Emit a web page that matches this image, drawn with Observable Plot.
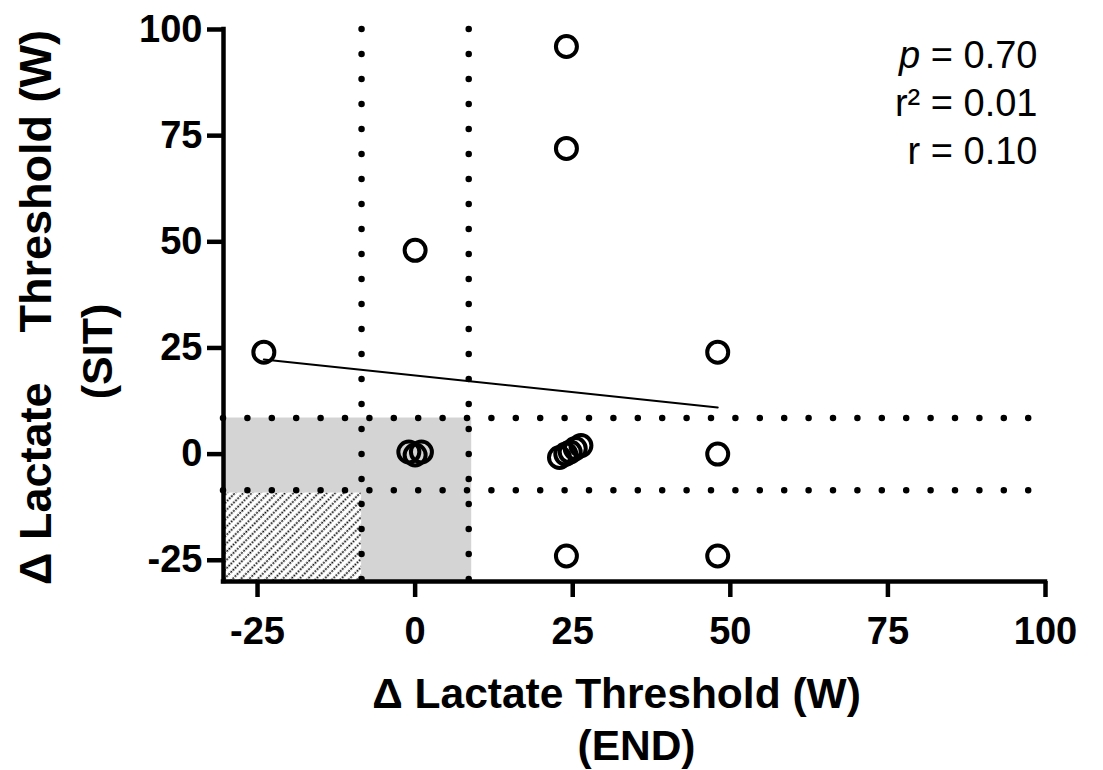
<!DOCTYPE html>
<html><head><meta charset="utf-8">
<script src="https://cdn.jsdelivr.net/npm/d3@7"></script>
<script src="https://cdn.jsdelivr.net/npm/@observablehq/plot@0.6"></script>
<style>body{margin:0;background:#fff;} svg{display:block;}</style>
</head><body><div id="chart"></div>
<script>
// ---- data ----
const xTicks = [-25, 0, 25, 50, 75, 100];
const yTicks = [-25, 0, 25, 50, 75, 100];
const ptX = [24, 24, 0, -24, 48, -1, 0, 1, 22.9, 23.9, 24.6, 25.4, 26.3, 48, 24, 48];
const ptY = [96, 72, 48, 24, 24, 0.5, -0.2, 0.5, -0.8, 0, 0.5, 1.3, 2, 0, -24, -24];
const fitX = [-24, 48];
const fitY = [22.3, 11];
const cutoffs = [-8.5, 8.5];
const statLines = ["p = 0.70", "r\u00b2 = 0.01", "r = 0.10"];
const xTitle = ["\u0394 Lactate Threshold (W)", "(END)"];
const yTitle = ["\u0394 Lactate\u00a0\u00a0\u00a0 Threshold (W)", "(SIT)"];

const points = ptX.map((x, i) => ({x, y: ptY[i]}));
const fit = fitX.map((x, i) => ({x, y: fitY[i]}));

const X0 = -30.4, X1 = 100, Y0 = -30, Y1 = 100;
const font = "'Liberation Sans', Arial, Helvetica, sans-serif";

const chart = Plot.plot({
  width: 1103,
  height: 770,
  marginLeft: 223,
  marginRight: 58,
  marginTop: 29,
  marginBottom: 189,
  style: {fontFamily: font, background: "#fff", color: "#000"},
  x: {domain: [X0, X1]},
  y: {domain: [Y0, Y1]},
  marks: [
    // shaded quadrant
    Plot.rect([0], {x1: X0, x2: cutoffs[1], y1: Y0, y2: cutoffs[1], fill: "#d4d4d4", insetRight: -3}),
    Plot.rect([0], {x1: X0, x2: cutoffs[0], y1: Y0, y2: cutoffs[0], fill: "#fff", insetTop: 3}),
    Plot.rect([0], {x1: X0, x2: cutoffs[0], y1: Y0, y2: cutoffs[0], fill: "url(#hatch)", insetTop: 3}),
    // dotted cut-off lines
    Plot.ruleX(cutoffs, {y1: Y1, y2: Y0, stroke: "#000", strokeWidth: 6.5, strokeDasharray: "0,25", strokeLinecap: "round"}),
    Plot.ruleY(cutoffs, {x1: X0, x2: 98.5, stroke: "#000", strokeWidth: 6.5, strokeDasharray: "0,24.4", strokeLinecap: "round"}),
    // regression line
    Plot.line(fit, {x: "x", y: "y", stroke: "#000", strokeWidth: 2}),
    // points
    Plot.dot(points, {x: "x", y: "y", r: 10.5, stroke: "#000", strokeWidth: 4, fill: "none"}),
    // axes
    Plot.ruleX([X0], {y1: Y0, y2: Y1, stroke: "#000", strokeWidth: 4.5, strokeLinecap: "square"}),
    Plot.ruleY([Y0], {x1: X0, x2: X1, stroke: "#000", strokeWidth: 4.5, strokeLinecap: "square"}),
    Plot.axisX({ticks: xTicks, tickFormat: d => String(d), tickSize: 16, tickPadding: 20, strokeWidth: 4.5,
      fontSize: 38, fontWeight: "bold", label: null}),
    Plot.axisY({ticks: yTicks, tickFormat: d => String(d), tickSize: 16, tickPadding: 5, strokeWidth: 4.5,
      fontSize: 38, fontWeight: "bold", label: null}),
    // axis titles
    Plot.text([xTitle[0]], {text: d => d, frameAnchor: "bottom", textAnchor: "middle", dx: -18, dy: 113,
      lineAnchor: "middle", fontSize: 42.5, fontWeight: "bold"}),
    Plot.text([xTitle[1]], {text: d => d, frameAnchor: "bottom", textAnchor: "middle", dx: 2, dy: 165,
      lineAnchor: "middle", fontSize: 42.5, fontWeight: "bold"}),
    Plot.text([yTitle[0]], {text: d => d, frameAnchor: "left", textAnchor: "middle", dx: -187, dy: 2,
      rotate: -90, lineAnchor: "middle", fontSize: 45, fontWeight: "bold"}),
    Plot.text([yTitle[1]], {text: d => d, frameAnchor: "left", textAnchor: "middle", dx: -125, dy: 46,
      rotate: -90, lineAnchor: "middle", fontSize: 43, fontWeight: "bold"}),
    // statistics
    ...statLines.map((s, i) => Plot.text([s], {text: d => d, frameAnchor: "top-right", textAnchor: "end",
      lineAnchor: "middle", dx: -8, dy: 26 + i * 48, fontSize: 38}))
  ]
});

// hatch pattern definition
const svg = d3.select(chart);
const defs = svg.insert("defs", ":first-child");
const pat = defs.append("pattern").attr("id", "hatch").attr("patternUnits", "userSpaceOnUse")
  .attr("width", 5.9).attr("height", 6).attr("patternTransform", "rotate(45)");
pat.append("rect").attr("width", 5.9).attr("height", 6).attr("fill", "#fff");
pat.append("line").attr("x1", 1.5).attr("y1", 0).attr("x2", 1.5).attr("y2", 6)
  .attr("stroke", "#000").attr("stroke-width", 1.7).attr("stroke-dasharray", "1.8,1.2");

// italic "p"
svg.selectAll("text").each(function() {
  if (this.textContent === statLines[0]) {
    const t = d3.select(this);
    t.text(null);
    t.append("tspan").attr("font-style", "italic").text("p");
    t.append("tspan").text(statLines[0].slice(1));
  }
});

document.getElementById("chart").appendChild(chart);
</script>
</body></html>
